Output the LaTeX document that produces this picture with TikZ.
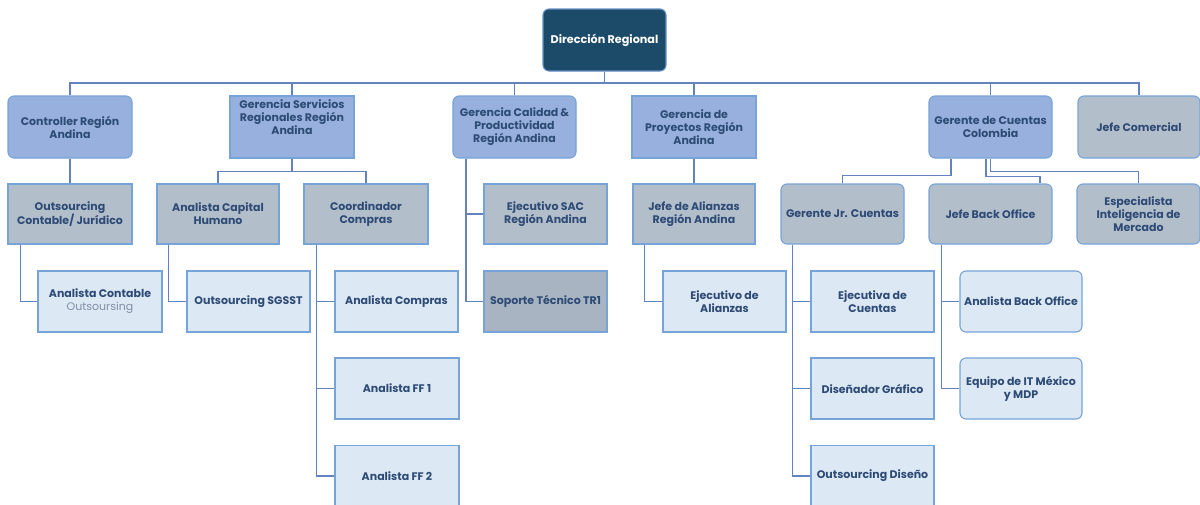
\documentclass[tikz,border=0pt]{standalone}
\usepackage{fontspec}
\setmainfont{Poppins}
\definecolor{txt}{HTML}{2D4B75}
\definecolor{topfill}{HTML}{1C4A69}
\definecolor{lvA}{HTML}{97B0DD}
\definecolor{lvB}{HTML}{B3BECB}
\definecolor{lvBdark}{HTML}{A9B4C2}
\definecolor{lvC}{HTML}{DDE8F5}
\definecolor{edge}{HTML}{76A3D8}
\definecolor{wire}{HTML}{6282C0}
\definecolor{soft}{HTML}{7F8FA6}
\begin{document}
\begin{tikzpicture}[x=1pt,y=-1pt,
  box/.style={draw=edge, line width=1.1pt, minimum width=123pt, minimum height=61pt,
    inner sep=1pt, align=center, text=txt,
    font=\bfseries\fontsize{11}{13}\selectfont},
  rnd/.style={rounded corners=6pt},
  topbox/.style={box, rnd, fill=topfill, draw=edge!80!topfill, text=white, minimum height=62pt,
    font=\bfseries\fontsize{11.2}{13}\selectfont},
  lvone/.style={box, fill=lvA, minimum height=62pt},
  lvtwo/.style={box, fill=lvB, minimum height=60pt},
  lvthree/.style={box, fill=lvC},
  conn/.style={draw=wire, line width=1.2pt}]
\clip (0,0) rectangle (1200,504);

% head
\node[topbox] (dir) at (604.5,40) {Dirección Regional};

% first level
\node[lvone, rnd, minimum width=124pt] (ctrl) at (70,127) {Controller Región\\Andina};
\node[lvone, minimum width=124pt] (serv) at (292,127) {Gerencia Servicios\\Regionales Región\\Andina\\[6pt]};
\node[lvone, rnd] (cal) at (514.5,127) {Gerencia Calidad\,\&\\Productividad\\Región Andina};
\node[lvone, minimum width=124pt] (proy) at (694,127) {Gerencia de\\Proyectos Región\\Andina};
\node[lvone, rnd] (gcc) at (990.5,127) {Gerente de Cuentas\\Colombia};
\node[lvtwo, rnd, minimum height=62pt, minimum width=122pt] (jcom) at (1139,127) {Jefe Comercial};

% second level
\node[lvtwo, minimum width=124pt] (oc) at (70,214) {Outsourcing\\Contable/ Jurídico};
\node[lvtwo, minimum width=122pt] (ach) at (218,214) {Analista Capital\\Humano};
\node[lvtwo, minimum width=124pt] (coord) at (366,214) {Coordinador\\Compras};
\node[lvtwo] (sac) at (545.5,214) {Ejecutivo SAC\\Región Andina};
\node[lvtwo, minimum width=122pt] (jal) at (694,214) {Jefe de Alianzas\\Región Andina};
\node[lvtwo, rnd] (gjr) at (842.5,214) {Gerente Jr. Cuentas};
\node[lvtwo, rnd] (jbo) at (990.5,214) {Jefe Back Office};
\node[lvtwo, rnd] (esp) at (1138.5,214) {Especialista\\Inteligencia de\\Mercado};

% third level
\node[lvthree, minimum width=124pt] (acont) at (100,301.5) {Analista Contable\\{\mdseries\color{soft}Outsoursing}};
\node[lvthree] (sgsst) at (248.5,301.5) {Outsourcing SGSST};
\node[lvthree] (acomp) at (396.5,301.5) {Analista Compras};
\node[lvthree, fill=lvBdark] (sop) at (545.5,301.5) {Soporte Técnico TR1};
\node[lvthree] (eali) at (724.5,301.5) {Ejecutivo de\\Alianzas};
\node[lvthree] (ecta) at (872.5,301.5) {Ejecutiva de\\Cuentas};
\node[lvthree, rnd, minimum width=122pt] (abo) at (1021,301.5) {Analista Back Office};

% fourth level
\node[lvthree, minimum width=124pt] (ff1) at (397,388.5) {Analista FF 1};
\node[lvthree] (dis) at (872.5,388.5) {Diseñador Gráfico};
\node[lvthree, rnd, minimum width=122pt] (eqit) at (1021,388.5) {Equipo de IT México\\y MDP};

% fifth level
\node[lvthree, minimum width=124pt] (ff2) at (397,476) {Analista FF 2};
\node[lvthree] (odis) at (872.5,476) {Outsourcing Diseño};

% main bus under the head
\coordinate (bus) at (0,83);
\draw[conn] (dir.south) -- (dir.south |- bus);
\draw[conn] (ctrl.north) -- (ctrl.north |- bus) -- (jcom.north |- bus) -- (jcom.north);
\foreach \n in {serv,cal,proy,gcc}
  \draw[conn] (\n.north) -- (\n.north |- bus);

% first to second level
\draw[conn] (ctrl.south) -- (oc.north);
\draw[conn] (serv.south) -- ++(0,13) -| (ach.north);
\draw[conn] (serv.south) -- ++(0,13) -| (coord.north);
\draw[conn] ([xshift=-48.5pt]cal.south) |- (sac.west);
\draw[conn] ([xshift=-48.5pt]cal.south) |- (sop.west);
\draw[conn] (proy.south) -- (jal.north);
\draw[conn] ([xshift=-39.5pt]gcc.south) -- ++(0,17) -| (gjr.north);
\draw[conn] ([xshift=-4.5pt]gcc.south) -- ++(0,18) -| ([xshift=49.5pt]jbo.north);
\draw[conn] (gcc.south) -- ++(0,13) -| (esp.north);

% second to lower levels
\draw[conn] ([xshift=13pt]oc.south west) |- (acont.west);
\draw[conn] ([xshift=12pt]ach.south west) |- (sgsst.west);
\draw[conn] ([xshift=13pt]coord.south west) |- (acomp.west);
\draw[conn] ([xshift=13pt]coord.south west) |- (ff1.west);
\draw[conn] ([xshift=13pt]coord.south west) |- (ff2.west);
\draw[conn] ([xshift=12pt]jal.south west) |- (eali.west);
\draw[conn] ([xshift=12pt]gjr.south west) |- (ecta.west);
\draw[conn] ([xshift=12pt]gjr.south west) |- (dis.west);
\draw[conn] ([xshift=12pt]gjr.south west) |- (odis.west);
\draw[conn] ([xshift=13pt]jbo.south west) |- (abo.west);
\draw[conn] ([xshift=13pt]jbo.south west) |- (eqit.west);
\end{tikzpicture}
\end{document}
